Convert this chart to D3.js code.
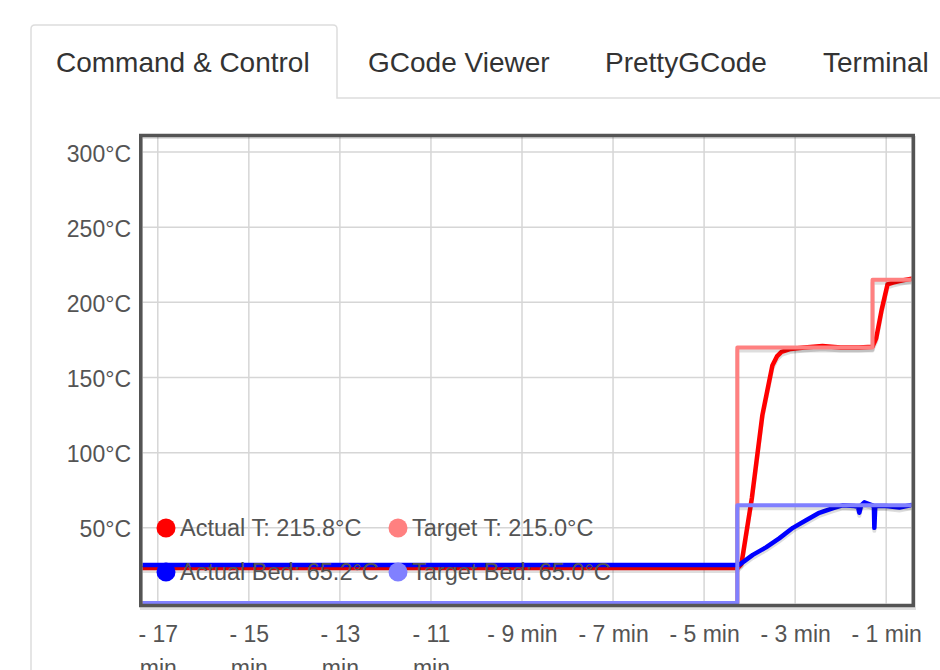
<!DOCTYPE html>
<html>
<head>
<meta charset="utf-8">
<script src="https://cdn.jsdelivr.net/npm/d3@7"></script>
<style>
  body { margin: 0; background: #fff; }
  svg { display: block; font-family: "Liberation Sans", Arial, Helvetica, sans-serif; }
</style>
</head>
<body>
<svg id="chart" width="940" height="670"></svg>
<script>
// tabs across the top
var tabNames = ["Command & Control", "GCode Viewer", "PrettyGCode", "Terminal"];
var tabTextX = [56, 368, 605, 823];

// axes
var timeTicks = [-17, -15, -13, -11, -9, -7, -5, -3, -1];
var tempTicks = [50, 100, 150, 200, 250, 300];

// series (minutes before now, degrees C)
var actualTTime = [-17.34, -4.26, -4.18, -3.95, -3.72, -3.50, -3.40, -3.30, -3.10, -2.80, -2.40, -2.00, -1.60, -1.30, -1.22, -1.10, -0.97, -0.85, -0.71, -0.44];
var actualTVals = [23.3, 23.3, 26, 70, 125, 158, 164, 167, 169, 170, 171, 170, 170, 170.5, 176, 195, 212, 213.2, 214.2, 215.8];

var targetTTime = [-17.34, -4.27, -4.27, -1.30, -1.30, -0.44];
var targetTVals = [0, 0, 170, 170, 215, 215];

var actualBedTime = [-17.34, -4.26, -4.22, -3.93, -3.64, -3.35, -3.05, -2.76, -2.47, -2.18, -1.96, -1.70, -1.62, -1.59, -1.55, -1.48, -1.30, -1.27, -1.26, -1.24, -1.00, -0.71, -0.44];
var actualBedVals = [25.3, 25.3, 25.5, 32, 37, 43, 50, 55, 60, 63, 65, 64.5, 64, 60, 65, 67, 65, 64.5, 50, 64.5, 64.5, 63.5, 65.2];

var targetBedTime = [-17.34, -4.27, -4.27, -0.44];
var targetBedVals = [0, 0, 65, 65];

var legendLabels = ["Actual T: 215.8°C", "Target T: 215.0°C", "Actual Bed: 65.2°C", "Target Bed: 65.0°C"];
var seriesColors = ["#ff0000", "#ff8080", "#0000ff", "#8080ff"];

var svg = d3.select("#chart");

// ---- tab bar ----
svg.append("path")
    .attr("d", "M31,670 V29 Q31,25 35,25 H333 Q337,25 337,29 V98 H940")
    .attr("fill", "none")
    .attr("stroke", "#dddddd")
    .attr("stroke-width", 1.5);

svg.selectAll(".tab")
    .data(tabNames)
    .enter()
    .append("text")
    .attr("class", "tab")
    .attr("x", (d, i) => tabTextX[i])
    .attr("y", 72)
    .attr("font-size", 28)
    .attr("fill", "#333")
    .text(d => d);

// ---- plot ----
var plot = { left: 142.5, right: 911.5, top: 137, bottom: 603.5 };

var x = d3.scaleLinear()
    .domain([-17.336, -0.444])
    .range([plot.left, plot.right]);

var y = d3.scaleLinear()
    .domain([0, 310])
    .range([603, 137]);

svg.append("clipPath").attr("id", "plotClip")
    .append("rect")
    .attr("x", plot.left).attr("y", plot.top)
    .attr("width", plot.right - plot.left)
    .attr("height", plot.bottom - plot.top + 1);

// grid
var grid = svg.append("g").attr("clip-path", "url(#plotClip)");
grid.selectAll(".vgrid")
    .data(timeTicks)
    .enter().append("line")
    .attr("x1", d => x(d)).attr("x2", d => x(d))
    .attr("y1", plot.top).attr("y2", plot.bottom)
    .attr("stroke", "#d6d6d6").attr("stroke-width", 1.5);
grid.selectAll(".hgrid")
    .data(tempTicks)
    .enter().append("line")
    .attr("x1", plot.left).attr("x2", plot.right)
    .attr("y1", d => y(d)).attr("y2", d => y(d))
    .attr("stroke", "#d6d6d6").attr("stroke-width", 1.5);

// series
var series = [
    { t: actualTTime, v: actualTVals },
    { t: targetTTime, v: targetTVals },
    { t: actualBedTime, v: actualBedVals },
    { t: targetBedTime, v: targetBedVals }
];

var line = d3.line()
    .x(d => x(d[0]))
    .y(d => y(d[1]));

var lines = svg.append("g").attr("clip-path", "url(#plotClip)");
series.forEach(function(s, i) {
    var pts = s.t.map((t, j) => [t, s.v[j]]);
    // flot-like shadow
    lines.append("path")
        .attr("d", line(pts))
        .attr("transform", "translate(0,3)")
        .attr("fill", "none")
        .attr("stroke", "rgba(0,0,0,0.13)")
        .attr("stroke-width", 4)
        .attr("stroke-linejoin", "round");
    lines.append("path")
        .attr("d", line(pts))
        .attr("fill", "none")
        .attr("stroke", seriesColors[i])
        .attr("stroke-width", i % 2 == 0 ? 4.5 : 4)
        .attr("stroke-linejoin", "round")
        .attr("stroke-linecap", "round");
});

// frame
svg.append("rect")
    .attr("x", 141.5).attr("y", 137.5)
    .attr("width", 773).attr("height", 471)
    .attr("fill", "none")
    .attr("stroke", "rgba(0,0,0,0.12)")
    .attr("stroke-width", 3);
svg.append("rect")
    .attr("x", 140.75).attr("y", 135.5)
    .attr("width", 772.5).attr("height", 470)
    .attr("fill", "none")
    .attr("stroke", "#545454")
    .attr("stroke-width", 3.5);

// y axis labels
var yAxis = d3.axisLeft(y)
    .tickValues(tempTicks)
    .tickSize(0)
    .tickPadding(0)
    .tickFormat(d => d + "°C");
var yG = svg.append("g")
    .attr("transform", "translate(131,0)")
    .call(yAxis);
yG.select(".domain").remove();
yG.selectAll("text")
    .attr("font-size", 23)
    .attr("font-family", "Liberation Sans, Arial, sans-serif")
    .attr("fill", "#545454")
    .attr("dy", 9);

// x axis labels
var xAxis = d3.axisBottom(x)
    .tickValues(timeTicks)
    .tickSize(0)
    .tickPadding(0)
    .tickFormat(d => "- " + Math.abs(d) + " min");
var xG = svg.append("g")
    .attr("transform", "translate(0,642)")
    .call(xAxis);
xG.select(".domain").remove();
xG.selectAll("text")
    .attr("font-size", 23)
    .attr("font-family", "Liberation Sans, Arial, sans-serif")
    .attr("fill", "#545454")
    .attr("dy", 0)
    .each(function(d) {
        var el = d3.select(this);
        var label = el.text();
        // long labels wrap onto two lines like flot's fixed-width tick boxes
        if (this.getComputedTextLength() > 78) {
            var cut = label.lastIndexOf(" ");
            el.text(null);
            el.append("tspan").attr("x", 0).attr("dy", 0).text(label.slice(0, cut));
            el.append("tspan").attr("x", 0).attr("dy", 34).text(label.slice(cut + 1));
        }
    });

// legend
var legendX = [166, 398];
var legendY = [528, 572];
var legend = svg.append("g");
legendLabels.forEach(function(lbl, i) {
    var cx = legendX[i % 2], cy = legendY[Math.floor(i / 2)];
    legend.append("circle")
        .attr("cx", cx).attr("cy", cy).attr("r", 9.5)
        .attr("fill", seriesColors[i]);
    legend.append("text")
        .attr("x", cx + 14).attr("y", cy + 8)
        .attr("font-size", 23.5)
        .attr("fill", "#545454")
        .text(lbl);
});
</script>
</body>
</html>
